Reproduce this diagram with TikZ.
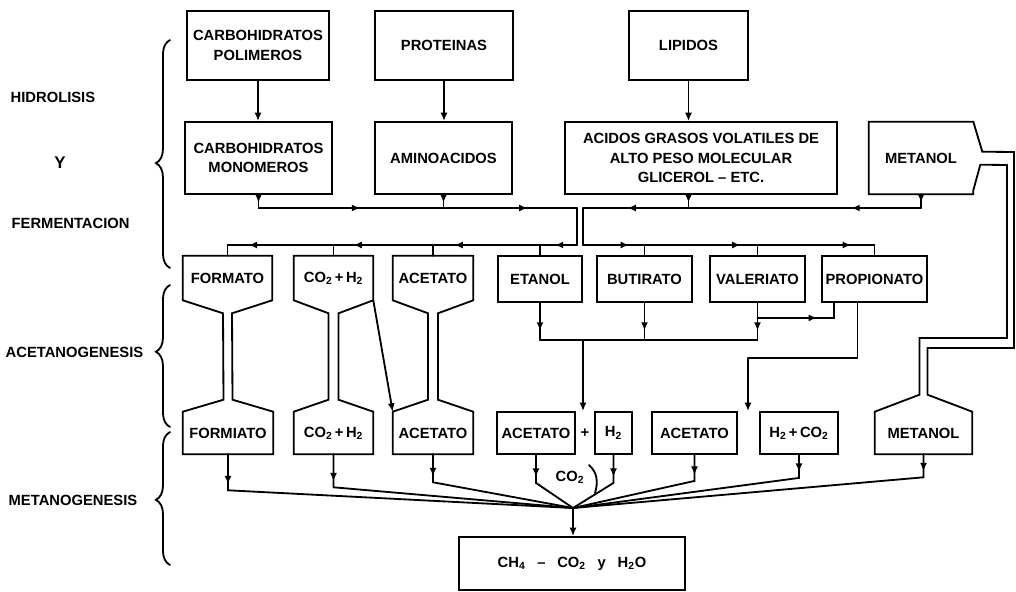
\documentclass[tikz,border=0pt]{standalone}
\usepackage{fontspec}
\setmainfont{Liberation Sans}
\usetikzlibrary{arrows.meta,calc,decorations.pathreplacing,decorations.markings}
\tikzset{
  linea/.style={line width=1.3pt,line cap=round},
  caja/.style={draw,linea,align=center},
  hueco/.style={align=center},
  flecha/.style={linea,-{Latex[length=6pt,width=5pt]}},
  medio/.style={linea,postaction={decorate},
    decoration={markings,mark=at position #1 with {\arrow{Latex[length=6pt,width=5pt]}}}},
  llave/.style={linea,decorate,decoration={brace,amplitude=10pt,aspect=#1}},
}
% caja de arriba, caja de abajo, medio cuello
\newcommand\embudo[3]{%
  \draw[linea] (#1.north west) -- (#1.south west) -- ($(#1.south)+(-#3,13)$)
    -- ($(#2.north)+(-#3,-12)$) -- (#2.north west) -- (#2.south west)
    -- (#2.south east) -- (#2.north east) -- ($(#2.north)+(#3,-12)$)
    -- ($(#1.south)+(#3,13)$) -- (#1.south east) -- (#1.north east) -- cycle;}
\begin{document}
\begin{tikzpicture}[x=0.025cm,y=-0.025cm,
    every node/.style={font=\bfseries\fontsize{10.5}{14}\selectfont,inner sep=1pt}]
  \useasboundingbox (0,0) rectangle (1016,591);
  % etapas
  \node[anchor=west] (hidro) at (9,97) {HIDROLISIS};
  \node[font=\bfseries\large] (yy) at (60,163) {Y};
  \node[anchor=west] (ferm) at (10,223) {FERMENTACION};
  \node[anchor=west] (aceto) at (4,352) {ACETANOGENESIS};
  \node[anchor=west] (metano) at (7,500) {METANOGENESIS};
  \draw[llave=.46] (170,268) -- (170,40);
  \draw[llave=.53] (170,427) -- (170,285);
  \draw[llave=.49] (170,565) -- (170,432);
  % sustratos
  \node[caja,minimum width=3.55cm,minimum height=1.725cm] (cpol) at (258,45.5) {CARBOHIDRATOS\\POLIMEROS};
  \node[caja,minimum width=3.45cm,minimum height=1.725cm] (prot) at (444,45.5) {PROTEINAS};
  \node[caja,minimum width=2.975cm,minimum height=1.725cm] (lip) at (688.5,45.5) {LIPIDOS};
  \node[caja,minimum width=3.675cm,minimum height=1.8cm] (cmon) at (258.5,158) {CARBOHIDRATOS\\MONOMEROS};
  \node[caja,minimum width=3.425cm,minimum height=1.8cm] (amino) at (443.5,158) {AMINOACIDOS};
  \node[caja,minimum width=6.8cm,minimum height=1.8cm] (agv) at (701,158) {ACIDOS GRASOS VOLATILES DE\\ALTO PESO MOLECULAR\\GLICEROL -- ETC.};
  \node[hueco,minimum width=2.6cm,minimum height=1.8cm] (met1) at (921,158) {METANOL};
  % intermediarios
  \node[hueco,minimum width=2.225cm,minimum height=1.1cm] (fmto) at (227.5,278) {FORMATO};
  \node[hueco,minimum width=1.975cm,minimum height=1.1cm] (co2a) at (333.5,278) {CO\textsubscript{2}\,+\,H\textsubscript{2}};
  \node[hueco,minimum width=2cm,minimum height=1.1cm] (acet1) at (433,278) {ACETATO};
  \node[caja,minimum width=2.1cm,minimum height=1.15cm] (etanol) at (540,279) {ETANOL};
  \node[caja,minimum width=2.375cm,minimum height=1.15cm] (but) at (644.5,279) {BUTIRATO};
  \node[caja,minimum width=2.375cm,minimum height=1.15cm] (val) at (757.5,279) {VALERIATO};
  \node[caja,minimum width=2.625cm,minimum height=1.15cm] (prop) at (874.5,279) {PROPIONATO};
  % sustratos metanogenicos
  \node[hueco,minimum width=2.25cm,minimum height=1.05cm] (fmio) at (228,433) {FORMIATO};
  \node[hueco,minimum width=1.975cm,minimum height=1.05cm] (co2b) at (333.5,433) {CO\textsubscript{2}\,+\,H\textsubscript{2}};
  \node[hueco,minimum width=2cm,minimum height=1.05cm] (acet2) at (433,433) {ACETATO};
  \node[caja,minimum width=1.95cm,minimum height=1.05cm] (acet3) at (536,433) {ACETATO};
  \node (mas) at (585,433) {+};
  \node[caja,minimum width=0.925cm,minimum height=1.05cm] (h2) at (613.5,433) {H\textsubscript{2}};
  \node[caja,minimum width=2.125cm,minimum height=1.05cm] (acet4) at (694.5,433) {ACETATO};
  \node[caja,minimum width=1.95cm,minimum height=1.05cm] (h2co2) at (799,433) {H\textsubscript{2}\,+\,CO\textsubscript{2}};
  \node[hueco,minimum width=2.425cm,minimum height=1.05cm] (met2) at (923.5,433) {METANOL};
  \node[caja,minimum width=5.65cm,minimum height=1.325cm] (fin) at (572,563.5) {CH\textsubscript{4}\hspace{.8em}--\hspace{.8em}CO\textsubscript{2}\hspace{.8em}y\hspace{.8em}H\textsubscript{2}O};
  \node (co2l) at (570,477) {CO\textsubscript{2}};
  % embudos
  \embudo{fmto}{fmio}{4.5}
  \embudo{co2a}{co2b}{5}
  \embudo{acet1}{acet2}{5}
  \draw[linea] (met1.north west) -- (met1.north east) -- ($(met1.north east)+(9,30)$) -- (1014,152)
    -- (1014,348) -| ($(met2.north)+(4,-17)$) -- (met2.north east) -- (met2.south east)
    -- (met2.south west) -- (met2.north west) -- ($(met2.north)+(-4,-17)$) |- (1007,338)
    -- (1007,165) -- ($(met1.north east)+(7,43)$) -- ($(met1.south east)+(0,-4)$)
    -- (met1.south east) -- (met1.south west) -- cycle;
  % hidrolisis
  \draw[flecha] (cpol.south) -- (cpol.south |- cmon.north);
  \draw[flecha] (prot.south) -- (prot.south |- amino.north);
  \draw[flecha] (lip.south) -- (lip.south |- agv.north);
  \coordinate (b1i) at (577,208); \coordinate (b1d) at (583,208);
  \coordinate (b2i) at (577,245); \coordinate (b2d) at (583,245);
  \draw[medio=.6] (cmon.south) -- (cmon.south |- b1i);
  \draw[medio=.6] (amino.south) -- (amino.south |- b1i);
  \draw[medio=.6] (lip.south |- agv.south) -- (lip.south |- b1d);
  \draw[medio=.6] (met1.south) -- (met1.south |- b1d);
  \draw[medio=.55] (cmon.south |- b1i) -- (amino.south |- b1i);
  \draw[medio=.63] (amino.south |- b1i) -- (b1i);
  \draw[medio=.3] (met1.south |- b1d) -- (lip.south |- b1d);
  \draw[medio=.58] (lip.south |- b1d) -- (b1d);
  \draw[linea] (b1i) -- (b2i);
  \draw[linea] (b1d) -- (b2d);
  % fermentacion
  \draw[medio=.6] (b2i) -- (etanol.north |- b2i);
  \draw[medio=.8] (etanol.north |- b2i) -- (acet1.north |- b2i);
  \draw[medio=.8] (acet1.north |- b2i) -- (co2a.north |- b2i);
  \draw[medio=.8] (co2a.north |- b2i) -- (fmto.north |- b2i);
  \foreach \n in {fmto,co2a,acet1,etanol}
    \draw[linea] (\n.north |- b2i) -- (\n.north);
  \draw[medio=.75] (b2d) -- (but.north |- b2d);
  \draw[medio=.85] (but.north |- b2d) -- (val.north |- b2d);
  \draw[medio=.8] (val.north |- b2d) -- (prop.north |- b2d);
  \foreach \n in {but,val,prop}
    \draw[linea] (\n.north |- b2d) -- (\n.north);
  % acetanogenesis
  \coordinate (j3) at (583,340);
  \foreach \n in {etanol,but,val}
    \draw[medio=.75] (\n.south) -- (\n.south |- j3);
  \draw[linea] (etanol.south |- j3) -- (val.south |- j3);
  \draw[flecha] (j3) -- (j3 |- acet3.north);
  \draw[medio=.65] ($(val.south)+(0,15)$) -| ($(prop.south west)+(13,0)$);
  \coordinate (j4) at (748,358);
  \draw[linea] ($(prop.south)+(-17,0)$) |- (j4);
  \draw[flecha] (j4) -- (j4 |- acet4.north);
  \draw[flecha] (co2a.south east) -- (acet2.north west);
  % metanogenesis
  \coordinate (conv) at (573,508);
  \foreach \n/\d in {fmio/36,co2b/33,acet2/28,acet3/28,h2/28,acet4/26,h2co2/23,met2/23}{
    \draw[linea] (\n.south) -- ++(0,\d) -- (conv);
    \draw[flecha] (\n.south) -- ++(0,\d-6);
  }
  \draw[flecha] (conv) -- (conv |- fin.north);
  \draw[linea] ($(co2l.east)+(3,-12)$) .. controls +(9,8) and +(3,-10) .. ($(co2l.east)+(9,16)$);
\end{tikzpicture}
\end{document}
